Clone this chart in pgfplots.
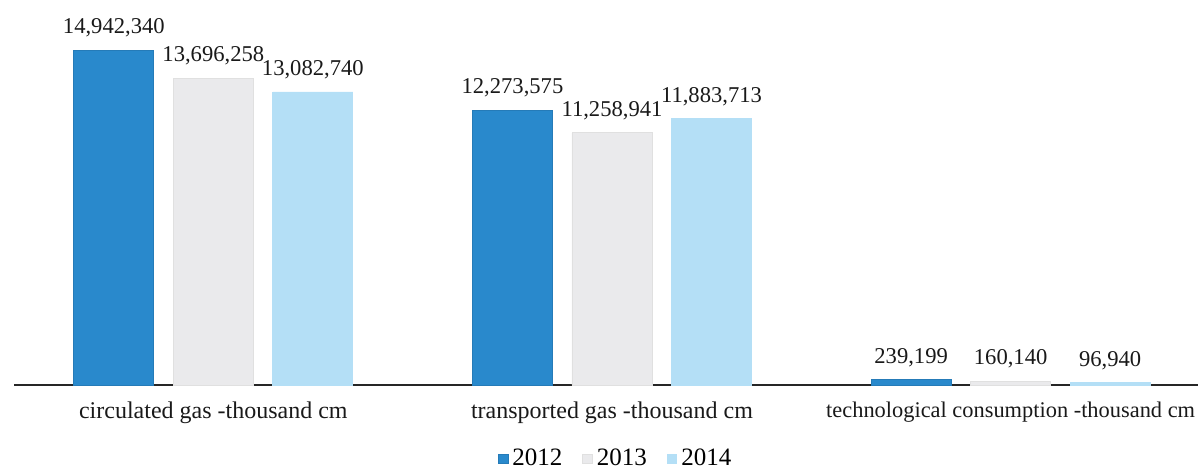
\documentclass[border=0pt]{standalone}
\usepackage{pgfplots}
\pgfplotsset{compat=1.18}
\usepackage{fontspec}
\setmainfont{Liberation Serif}
\definecolor{c12}{RGB}{41,137,204}
\definecolor{c13}{RGB}{234,234,236}
\definecolor{c14}{RGB}{180,223,246}
\begin{document}
\begin{tikzpicture}[x=1pt,y=1pt]
\begin{axis}[
  name=ax, at={(0,0)}, anchor=south west,
  scale only axis, width=592pt, height=184.8pt,
  xmin=-0.5, xmax=2.47, ymin=0, ymax=16.5,
  ybar, bar width=40pt,
  axis y line=none,
  axis x line*=bottom,
  axis line style={-, black!85, line width=0.6pt},
  xtick={0,1,2},
  xticklabels={circulated gas -thousand cm, transported gas -thousand cm, {\fontsize{11.2}{14}\selectfont technological consumption -thousand cm}},
  major tick length=0pt,
  xticklabel style={font=\fontsize{12}{14}\selectfont, text=black!90, yshift=-5pt},
  ytick=\empty,
  clip=false,
  point meta=explicit symbolic,
  nodes near coords,
  every node near coord/.append style={font=\fontsize{11.3}{13}\selectfont, text=black!90, anchor=south, yshift=3pt},
  legend style={at={(0.509,-0.200)}, anchor=center, draw=none, fill=none,
    legend columns=-1, font=\fontsize{12.5}{14}\selectfont, inner sep=1pt,
    /tikz/every even column/.append style={column sep=8pt}},
  legend image code/.code={\fill[#1] (0pt,-2.4pt) rectangle (4.8pt,2.4pt);},
]
\addplot[fill=c12, draw=c12!90!black, bar shift=-49.75pt] table[x=x, y=y, meta=lab] {
x y lab
0 14.942340 14,942,340
1 12.273575 12,273,575
2 0.239199 239,199
};
\addplot[fill=c13, draw=black!12, bar shift=0pt] table[x=x, y=y, meta=lab] {
x y lab
0 13.696258 13,696,258
1 11.258941 11,258,941
2 0.160140 160,140
};
\addplot[fill=c14, draw=c14, bar shift=49.75pt] table[x=x, y=y, meta=lab] {
x y lab
0 13.082740 13,082,740
1 11.883713 11,883,713
2 0.096940 96,940
};
\legend{2012,2013,2014}
\end{axis}
\pgfresetboundingbox
\path (ax.south west) ++(-7pt,-43.5pt) rectangle ++(599pt,236pt);
\end{tikzpicture}
\end{document}
